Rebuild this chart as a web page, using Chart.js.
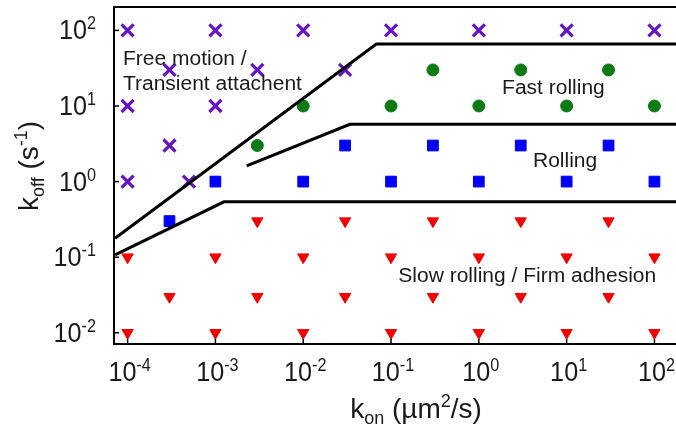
<!DOCTYPE html>
<html>
<head>
<meta charset="utf-8">
<script src="https://cdn.jsdelivr.net/npm/chart.js@4.4.0/dist/chart.umd.min.js"></script>
<style>
  html, body { margin: 0; padding: 0; background: #fff; overflow: hidden; }
</style>
</head>
<body>
<canvas id="chart" width="676" height="431"></canvas>
<script>
// values (k_on in um^2/s, k_off in 1/s)
const freeX = [1e-4, 1e-3, 1e-2, 1e-1, 1, 10, 100, 3e-4, 3e-3, 3e-2, 1e-4, 1e-3, 3e-4, 1e-4, 5e-4];
const freeY = [100, 100, 100, 100, 100, 100, 100, 30, 30, 30, 10, 10, 3, 1, 1];

const fastX = [3e-1, 3, 30, 1e-2, 1e-1, 1, 10, 100, 3e-3];
const fastY = [30, 30, 30, 10, 10, 10, 10, 10, 3];

const rollX = [3e-2, 3e-1, 3, 30, 1e-3, 1e-2, 1e-1, 1, 10, 100, 3e-4];
const rollY = [3, 3, 3, 3, 1, 1, 1, 1, 1, 1, 0.3];

const slowX = [3e-3, 3e-2, 3e-1, 3, 30,
               1e-4, 1e-3, 1e-2, 1e-1, 1, 10, 100,
               3e-4, 3e-3, 3e-2, 3e-1, 3, 30,
               1e-4, 1e-3, 1e-2, 1e-1, 1, 10, 100];
const slowY = [0.3, 0.3, 0.3, 0.3, 0.3,
               0.1, 0.1, 0.1, 0.1, 0.1, 0.1, 0.1,
               0.03, 0.03, 0.03, 0.03, 0.03, 0.03,
               0.01, 0.01, 0.01, 0.01, 0.01, 0.01, 0.01];

// regime boundaries
const upperX = [7.2e-5, 0.068, 300];
const upperY = [0.178, 66, 66];
const midX = [2.27e-3, 0.034, 300];
const midY = [1.61, 5.73, 5.73];
const lowerX = [7.2e-5, 1.25e-3, 300];
const lowerY = [0.107, 0.54, 0.54];

const xTicks = [1e-4, 1e-3, 1e-2, 1e-1, 1, 10, 100];
const yTicks = [1e-2, 1e-1, 1, 10, 100];

const regionNames = ['Free motion /', 'Transient attachent', 'Fast rolling', 'Rolling', 'Slow rolling / Firm adhesion'];

const FONT = '"Liberation Sans", Arial, sans-serif';
const INK = '#1a1a1a';

const pts = (xs, ys) => xs.map((x, i) => ({ x: x, y: ys[i] }));

function boundary(xs, ys) {
  return {
    data: pts(xs, ys), showLine: true, borderColor: '#000', borderWidth: 3,
    pointRadius: 0, fill: false, tension: 0
  };
}

// text with sub/superscripts: parts = [text, size, shift]
function richWidth(ctx, parts) {
  let w = 0;
  parts.forEach(p => { ctx.font = p[1] + 'px ' + FONT; w += ctx.measureText(p[0]).width; });
  return w;
}
// align: 0 = left, 0.5 = centre, 1 = right; sx squeezes the text horizontally
function drawRich(ctx, parts, x, y, align, sx) {
  ctx.save();
  ctx.translate(x, y);
  ctx.scale(sx, 1);
  let cx = -richWidth(ctx, parts) * align;
  parts.forEach(p => {
    ctx.font = p[1] + 'px ' + FONT;
    ctx.fillText(p[0], cx, p[2]);
    cx += ctx.measureText(p[0]).width;
  });
  ctx.restore();
}
const decade = v => [['10', 28, 0], [String(Math.round(Math.log10(v))), 18, -10]];

const decor = {
  id: 'decor',
  afterDraw(chart) {
    const { ctx, chartArea: a, scales: { x, y } } = chart;
    ctx.save();
    ctx.strokeStyle = '#000';
    ctx.lineWidth = 2;
    // top frame
    ctx.beginPath();
    ctx.moveTo(a.left - 1, a.top);
    ctx.lineTo(a.right + 2, a.top);
    ctx.stroke();
    // inward tick marks
    ctx.lineWidth = 1.5;
    xTicks.forEach(v => {
      const px = x.getPixelForValue(v);
      ctx.beginPath(); ctx.moveTo(px, a.bottom); ctx.lineTo(px, a.bottom - 5); ctx.stroke();
    });
    yTicks.forEach(v => {
      const py = y.getPixelForValue(v);
      ctx.beginPath(); ctx.moveTo(a.left, py); ctx.lineTo(a.left + 5, py); ctx.stroke();
    });

    ctx.fillStyle = INK;
    ctx.textAlign = 'left';
    ctx.textBaseline = 'alphabetic';

    // tick labels
    xTicks.forEach(v => drawRich(ctx, decade(v), x.getPixelForValue(v) + 2, a.bottom + 37, 0.5, 0.9));
    yTicks.forEach(v => drawRich(ctx, decade(v), a.left - 18, y.getPixelForValue(v) + 9, 1, 0.9));

    // region names, anchored in data space (left edge, baseline)
    const anchors = [[8.85e-5, 34.5], [8.85e-5, 16.1], [1.84, 14.3], [4.14, 1.56], [0.121, 0.0473]];
    regionNames.forEach((t, i) => {
      drawRich(ctx, [[t, 20, 0]], x.getPixelForValue(anchors[i][0]), y.getPixelForValue(anchors[i][1]), 0, 1.05);
    });

    // axis titles
    drawRich(ctx, [['k', 28, 0], ['on', 18, 6], [' (\u00B5m', 28, 0], ['2', 18, -11], ['/s)', 28, 0]], 416, 418, 0.5, 1);
    ctx.translate(38, 166);
    ctx.rotate(-Math.PI / 2);
    drawRich(ctx, [['k', 28, 0], ['off', 18, 6], [' (s', 28, 0], ['-1', 18, -11], [')', 28, 0]], 0, 0, 0.5, 1);
    ctx.restore();
  }
};

new Chart(document.getElementById('chart'), {
  type: 'scatter',
  data: {
    datasets: [
      boundary(upperX, upperY),
      boundary(midX, midY),
      boundary(lowerX, lowerY),
      { label: 'Free motion', data: pts(freeX, freeY), pointStyle: 'crossRot', pointRadius: 8.5,
        borderColor: '#6514c4', borderWidth: 3.2, backgroundColor: '#6514c4' },
      { label: 'Fast rolling', data: pts(fastX, fastY), pointStyle: 'circle', pointRadius: 6,
        borderColor: '#0b7a12', borderWidth: 1, backgroundColor: '#0b7a12' },
      { label: 'Rolling', data: pts(rollX, rollY), pointStyle: 'rect', pointRadius: 7.6,
        borderColor: '#0000f5', borderWidth: 1, backgroundColor: '#0000f5' },
      { label: 'Slow rolling', data: pts(slowX, slowY), pointStyle: 'triangle', rotation: 180, pointRadius: 6.5,
        borderColor: '#f20000', borderWidth: 1, backgroundColor: '#f20000' }
    ]
  },
  options: {
    responsive: false,
    animation: false,
    events: [],
    layout: { autoPadding: false, padding: { top: 7, left: 0, right: 0, bottom: 0 } },
    plugins: { legend: { display: false }, tooltip: { enabled: false } },
    scales: {
      x: {
        type: 'logarithmic', min: 7.2e-5, max: 176,
        grid: { display: false, drawTicks: false },
        border: { display: true, color: '#000', width: 2 },
        afterBuildTicks: s => { s.ticks = xTicks.map(v => ({ value: v })); },
        afterFit: s => { s.height = 87; s.paddingLeft = 0; s.paddingRight = 0; },
        ticks: { display: false }
      },
      y: {
        type: 'logarithmic', min: 0.0071, max: 204,
        grid: { display: false, drawTicks: false },
        border: { display: true, color: '#000', width: 2 },
        afterBuildTicks: s => { s.ticks = yTicks.map(v => ({ value: v })); },
        afterFit: s => { s.width = 114; s.paddingTop = 0; s.paddingBottom = 0; },
        ticks: { display: false }
      }
    }
  },
  plugins: [decor]
});
</script>
</body>
</html>
